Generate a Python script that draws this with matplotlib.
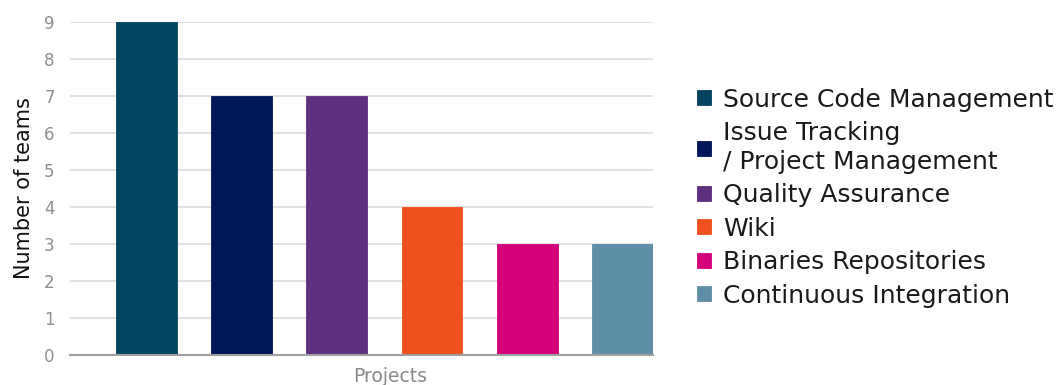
import matplotlib
matplotlib.use("Agg")
import matplotlib.pyplot as plt

categories = ["Source Code Management", "Issue Tracking\n/ Project Management",
              "Quality Assurance", "Wiki", "Binaries Repositories",
              "Continuous Integration"]
values = [9, 7, 7, 4, 3, 3]
colors = ["#02435f", "#011557", "#5f2f80", "#ee511b", "#d4007a", "#5f8ea8"]
yticks = list(range(0, 10))

plt.rcParams['font.family'] = ['DejaVu Sans']
fig = plt.figure(figsize=(10.56, 3.85), dpi=100)
ax = fig.add_axes([70/1056, 1 - 355/385, (653-70)/1056, (355-22)/385])

bars = []
for i, (v, c, lab) in enumerate(zip(values, colors, categories)):
    b = ax.bar(i, v, width=0.64, color=c, label=lab, zorder=3,
               edgecolor=c, linewidth=0.6)
    bars.append(b)

ax.set_xlim(-0.80, 5.32)
ax.set_ylim(0, 9)
ax.set_yticks(yticks)
ax.set_xticks([])
ax.tick_params(axis='y', length=0, pad=11, labelsize=12, labelcolor="#8f8f8f")
ax.grid(axis='y', color="#dddddd", linewidth=1.2, zorder=0)
for s in ["top", "right", "left"]:
    ax.spines[s].set_visible(False)
ax.spines["bottom"].set_color("#a0a0a0")
ax.spines["bottom"].set_linewidth(1.5)
ax.spines["bottom"].set_zorder(4)

ax.set_ylabel("Number of teams", fontsize=15, color="#111111", labelpad=7)
fig.text(390/1056, 1 - 376/385, "Projects", fontsize=13.5, color="#8a8a8a",
         ha="center", va="center")

leg = fig.legend(handles=[b[0] for b in bars], labels=categories,
                 loc="upper left", bbox_to_anchor=(697/1056, 1 - 87.5/385),
                 frameon=False, fontsize=18, handlelength=0.55,
                 handleheight=0.55, handletextpad=0.5, labelspacing=0.38,
                 borderpad=0, borderaxespad=0)
for t in leg.get_texts():
    t.set_color("#1a1a1a")
    t.set_linespacing(1.25)

fig.savefig("out.png", dpi=100)
